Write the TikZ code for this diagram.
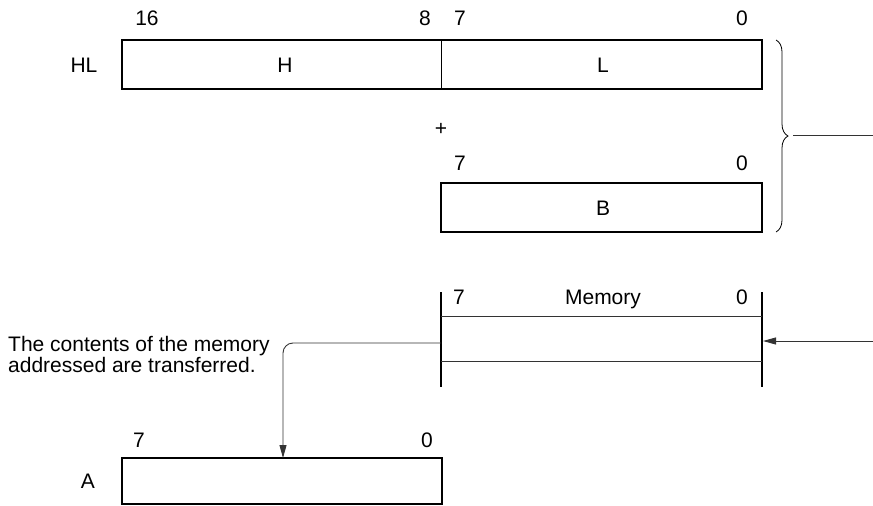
\documentclass[tikz,border=0pt]{standalone}
\usepackage{fontspec}
\setmainfont{Liberation Sans}
\usetikzlibrary{arrows.meta,decorations.pathreplacing}
\begin{document}
\begin{tikzpicture}[x=1pt,y=-1pt,
  every node/.style={font=\fontsize{21}{21}\selectfont},
  lbl/.style={anchor=base,inner sep=0pt},
  regbox/.style={draw=black,line width=1.8pt,inner sep=0pt,outer sep=0pt},
  conn/.style={draw=black!80,line width=0.9pt},
  tip/.style={-{Triangle[length=13pt,width=7pt]}},
  memwall/.style={draw=black,line width=2pt}
]
\useasboundingbox (0,0) rectangle (873,506);
% HL register
\node[regbox,minimum width=640pt,minimum height=49pt] (HL) at (442,64.5) {};
\coordinate (HLmidT) at (441,40);
\coordinate (HLmidB) at (441,89);
\draw[line width=0.7pt] (HLmidT) -- (HLmidB);
\node[lbl] (n16) at (147,25.5) {16};
\node[lbl] (n8) at (425,25.5) {8};
\node[lbl] (n7a) at (460,25.5) {7};
\node[lbl] (n0a) at (742,25.5) {0};
\node[lbl] (tHL) at (84,72.5) {HL};
\node[lbl] (tH) at (285,72.5) {H};
\node[lbl] (tL) at (603,72.5) {L};
\node[lbl] (plus) at (441,135) {+};
% B register
\node[regbox,minimum width=321pt,minimum height=49pt] (B) at (601.5,207.5) {};
\node[lbl] (n7b) at (460,170.5) {7};
\node[lbl] (n0b) at (742,170.5) {0};
\node[lbl] (tB) at (603,215.5) {B};
% brace
\coordinate (brT) at (776,40);
\coordinate (brB) at (776,232);
\draw[line width=0.8pt,decorate,decoration={brace,amplitude=12pt}] (brT) -- (brB);
\coordinate (brTip) at (793,135);
\coordinate (brOut) at (873,135);
\draw[conn] (brTip) -- (brOut);
% memory
\coordinate (mLT) at (441,292);
\coordinate (mLB) at (441,387);
\coordinate (mRT) at (762,292);
\coordinate (mRB) at (762,387);
\draw[memwall] (mLT) -- (mLB);
\draw[memwall] (mRT) -- (mRB);
\coordinate (m1L) at (441,316);
\coordinate (m1R) at (762,316);
\coordinate (m2L) at (441,361);
\coordinate (m2R) at (762,361);
\draw[conn] (m1L) -- (m1R);
\draw[conn] (m2L) -- (m2R);
\node[lbl] (n7m) at (459,304.5) {7};
\node[lbl] (tMem) at (603,304.5) {Memory};
\node[lbl] (n0m) at (742,304.5) {0};
\coordinate (memIn) at (873,341);
\coordinate (memR) at (763,341);
\draw[conn,tip] (memIn) -- (memR);
% A register
\node[regbox,minimum width=320pt,minimum height=46pt] (A) at (282,481) {};
\node[lbl] (n7A) at (139,447.5) {7};
\node[lbl] (n0A) at (427,447.5) {0};
\node[lbl] (tA) at (88,488.5) {A};
\coordinate (memL) at (441,343);
\coordinate (Ain) at (283,458);
\draw[conn,tip,rounded corners=10pt] (memL) -| (Ain);
\node[anchor=base west,inner sep=0pt,align=left,font=\fontsize{21}{21}\selectfont] (note) at (8,372) {The contents of the memory\\addressed are transferred.};
\end{tikzpicture}
\end{document}
